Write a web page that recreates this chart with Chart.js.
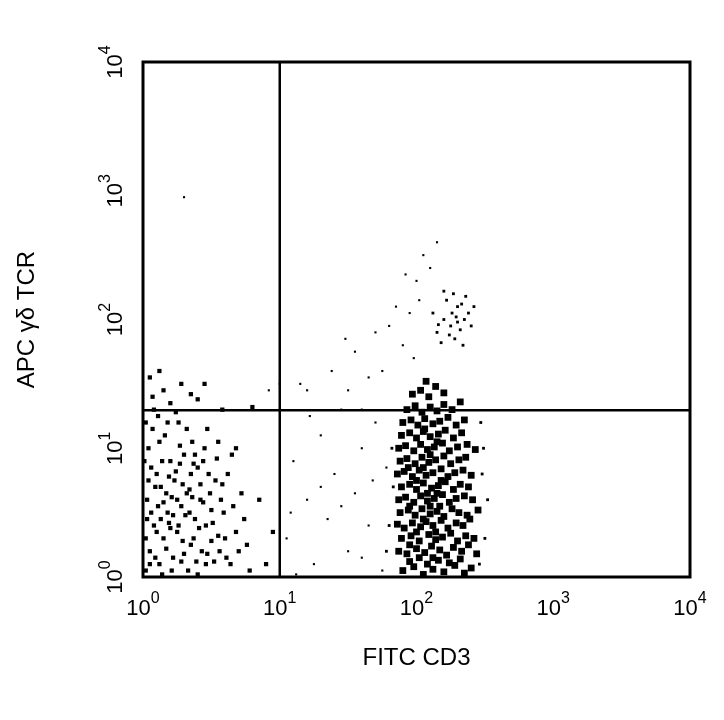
<!DOCTYPE html>
<html>
<head>
<meta charset="utf-8">
<script src="https://cdn.jsdelivr.net/npm/chart.js@4"></script>
<style>
  body { margin: 0; background: #fff; }
  #wrap { width: 724px; height: 720px; }
</style>
</head>
<body>
<div id="wrap"><canvas id="plot"></canvas></div>
<script>
// log10 (x,y) pairs
const lowerLeft = `0.02,0.05 0.05,0.2 0.08,0.4 0.03,0.6 0.1,0.8 0.04,1.0 0.07,1.15 0.12,0.1 0.15,0.3 0.18,0.5 0.13,0.7 0.2,0.9 0.16,1.1 0.22,0.15 0.25,0.35 0.28,0.55 0.23,0.75 0.3,0.95 0.26,1.2 0.33,0.05 0.35,0.25 0.38,0.45 0.32,0.65 0.4,0.85 0.36,1.05 0.43,0.2 0.46,0.4 0.42,0.6 0.48,0.8 0.45,1.0 0.52,0.12 0.55,0.32 0.5,0.52 0.58,0.72 0.54,0.92 0.6,0.3 0.64,0.1 0.66,0.55 0.7,0.2 0.74,0.45 0.62,0.8 0.78,0.05 0.02,0.3 0.06,0.5 0.09,0.7 0.01,0.9 0.11,1.25 0.14,0.02 0.17,0.22 0.19,0.42 0.21,0.62 0.24,0.82 0.27,1.02 0.29,0.28 0.31,0.48 0.34,0.68 0.37,0.88 0.39,0.12 0.41,0.38 0.44,0.58 0.47,0.18 0.49,0.65 0.51,0.42 0.53,0.75 0.56,0.2 0.59,0.5 0.05,0.1 0.1,0.35 0.15,0.58 0.2,0.38 0.25,0.6 0.3,0.18 0.35,0.8 0.4,0.02 0.06,0.85 0.12,1.05 0.18,1.2 0.24,1.28 0.08,1.3 0.03,0.45 0.14,0.9 0.22,0.48 0.28,0.12 0.32,1.15 0.38,0.95 0.44,0.9 0.09,0.15 0.04,0.75 0.13,0.45 0.17,0.65 0.21,0.05 0.26,0.4 0.29,0.72 0.34,0.5 0.37,0.3 0.42,0.72 0.46,0.1 0.5,0.28 0.57,0.6 0.61,0.15 0.68,0.35 0.72,0.65 0.76,0.25 0.65,0.95 0.55,1.05 0.47,1.15 0.02,1.2 0.11,0.55 0.19,0.78 0.27,0.88 0.36,0.62 0.07,1.4 0.15,1.45 0.28,1.5 0.4,1.38 0.05,1.55 0.2,1.35 0.35,1.42 0.58,1.3 0.8,1.32 0.12,1.6 0.45,1.5 0.68,1.0 0.9,0.1 0.85,0.6 0.95,0.35`;

const scattered = `1.05,0.3 1.1,0.9 1.15,1.5 1.2,0.6 1.25,0.1 1.3,1.1 1.35,0.45 1.4,0.8 1.45,1.3 1.5,0.2 1.55,0.65 1.6,1.0 1.65,0.4 1.7,1.2 1.75,0.05 1.78,0.85 1.6,0.15 1.45,0.55 1.3,0.7 1.22,1.25 1.12,0.02 1.5,1.45 1.38,1.6 1.55,1.75 1.65,1.55 1.7,1.9 1.48,1.85 1.75,1.6 1.8,1.95 1.85,2.1 1.9,1.8 1.95,2.05 2.0,2.3 2.05,2.5 2.1,2.4 2.02,2.15 1.98,1.7 1.92,2.35 2.15,2.6 0.3,2.95 1.6,1.3 1.08,0.5 1.68,0.75 0.92,1.45 1.0,1.5 1.2,1.45`;

const upper = `2.15,1.9 2.2,2.0 2.25,1.95 2.3,2.1 2.35,2.0 2.28,1.85 2.22,2.15 2.32,1.92 2.38,2.05 2.18,1.82 2.26,2.05 2.3,1.98 2.24,1.88 2.36,2.18 2.42,2.1 2.2,2.22 2.12,2.05 2.34,1.8 2.27,2.2 2.4,1.95 2.16,1.96 2.29,2.02 2.33,2.12`;

const mainCluster = `1.9,0.05 1.98,0.08 2.05,0.02 2.12,0.06 2.2,0.04 2.28,0.09 2.35,0.03 1.95,0.12 2.08,0.1 2.16,0.13 2.24,0.11 2.32,0.14 2.4,0.07
1.87,0.2 1.93,0.18 2.0,0.22 2.06,0.19 2.11,0.24 2.17,0.21 2.22,0.17 2.27,0.23 2.33,0.2 2.38,0.25 2.44,0.18
1.89,0.3 1.96,0.32 2.02,0.28 2.09,0.33 2.14,0.29 2.19,0.31 2.25,0.34 2.3,0.28 2.36,0.32 2.42,0.3
1.86,0.41 1.91,0.38 1.97,0.42 2.03,0.39 2.07,0.43 2.12,0.4 2.18,0.44 2.23,0.38 2.29,0.42 2.34,0.4 2.39,0.45
1.88,0.5 1.94,0.52 1.99,0.48 2.04,0.53 2.1,0.49 2.15,0.51 2.2,0.47 2.26,0.53 2.31,0.5 2.37,0.48 2.45,0.52
1.87,0.6 1.92,0.62 1.98,0.58 2.03,0.63 2.08,0.59 2.13,0.61 2.19,0.64 2.24,0.58 2.29,0.61 2.35,0.63 2.41,0.6
1.89,0.7 1.95,0.72 2.0,0.68 2.05,0.73 2.11,0.69 2.16,0.71 2.21,0.74 2.27,0.68 2.32,0.72 2.38,0.7
1.86,0.8 1.91,0.82 1.97,0.78 2.02,0.83 2.07,0.79 2.12,0.81 2.18,0.84 2.23,0.78 2.28,0.81 2.34,0.83 2.4,0.79
1.88,0.9 1.93,0.92 1.99,0.88 2.04,0.93 2.09,0.89 2.14,0.91 2.2,0.94 2.25,0.88 2.31,0.91 2.36,0.93
1.87,1.0 1.92,1.02 1.98,0.98 2.03,1.03 2.08,0.99 2.13,1.01 2.19,1.04 2.24,0.98 2.3,1.01 2.37,1.03 2.43,0.99
1.89,1.1 1.95,1.12 2.0,1.08 2.05,1.13 2.1,1.09 2.16,1.11 2.21,1.14 2.27,1.08 2.33,1.12
1.9,1.2 1.96,1.22 2.01,1.18 2.06,1.23 2.12,1.19 2.17,1.21 2.23,1.24 2.29,1.18 2.35,1.22
1.93,1.3 1.99,1.33 2.04,1.28 2.1,1.32 2.15,1.29 2.2,1.34 2.26,1.3 2.32,1.36
1.97,1.42 2.03,1.45 2.09,1.4 2.14,1.48 2.2,1.43 2.07,1.52
1.95,0.25 2.0,0.35 2.05,0.45 2.1,0.55 2.15,0.65 2.0,0.75 2.05,0.85 2.1,0.95 2.15,1.05 1.95,0.55 2.02,0.15 2.08,0.65 2.14,0.35 2.18,0.75 2.06,1.15 1.94,0.85 2.12,0.15 2.17,0.55`;

const mainFringe = `2.5,0.3 2.48,0.8 2.47,1.2 2.52,0.6 1.8,0.4 1.82,1.0 1.78,0.2 2.46,0.1 1.83,0.7 2.49,1.0`;

const gateX = [10];
const gateY = [19.7];
const decades = [1, 10, 100, 1000, 10000];
const exponents = ['0', '1', '2', '3', '4'];

function parse(s) {
    return s.trim().split(/\s+/).map(p => {
        const [a, b] = p.split(',').map(Number);
        return { x: 10 ** a, y: 10 ** b };
    });
}

function dots(data, r) {
    return { type: 'scatter', data: parse(data), pointStyle: 'rect', pointRadius: r,
             backgroundColor: '#000', borderWidth: 0 };
}

function gateLine(pts) {
    return { type: 'line', data: pts, borderColor: '#000', borderWidth: 2.5,
             pointRadius: 0, fill: false };
}

// "10" with a raised exponent, centred on (0,0) of the current transform
function powerLabel(ctx, exp) {
    ctx.font = '22px "Liberation Sans", Arial, sans-serif';
    const wBase = ctx.measureText('10').width;
    ctx.font = '16px "Liberation Sans", Arial, sans-serif';
    const wExp = ctx.measureText(exp).width;
    const start = -(wBase + wExp) / 2;
    ctx.textAlign = 'left';
    ctx.font = '22px "Liberation Sans", Arial, sans-serif';
    ctx.fillText('10', start, 0);
    ctx.font = '16px "Liberation Sans", Arial, sans-serif';
    ctx.fillText(exp, start + wBase, -10);
}

const decor = {
    id: 'decor',
    afterDraw(chart) {
        const { ctx, chartArea: a, scales } = chart;
        ctx.save();
        ctx.strokeStyle = '#000';
        ctx.lineWidth = 3;
        ctx.strokeRect(a.left, a.top, a.right - a.left, a.bottom - a.top);
        ctx.fillStyle = '#000';
        ctx.textBaseline = 'middle';
        decades.forEach((v, i) => {
            ctx.save();
            ctx.translate(scales.x.getPixelForValue(v), a.bottom + 32);
            powerLabel(ctx, exponents[i]);
            ctx.restore();
            ctx.save();
            ctx.translate(a.left - 27, scales.y.getPixelForValue(v));
            ctx.rotate(-Math.PI / 2);
            powerLabel(ctx, exponents[i]);
            ctx.restore();
        });
        ctx.textAlign = 'center';
        ctx.font = '24px "Liberation Sans", Arial, sans-serif';
        ctx.fillText('FITC CD3', (a.left + a.right) / 2, 658);
        ctx.save();
        ctx.translate(27, (a.top + a.bottom) / 2);
        ctx.rotate(-Math.PI / 2);
        ctx.fillText('APC γδ TCR', 0, 0);
        ctx.restore();
        ctx.restore();
    }
};

new Chart(document.getElementById('plot'), {
    data: {
        datasets: [
            dots(lowerLeft, 3),
            dots(scattered, 1.5),
            dots(upper, 2),
            dots(mainCluster, 4.8),
            dots(mainFringe, 2),
            gateLine([{ x: gateX[0], y: 1 }, { x: gateX[0], y: 10000 }]),
            gateLine([{ x: 1, y: gateY[0] }, { x: 10000, y: gateY[0] }])
        ]
    },
    options: {
        responsive: true,
        maintainAspectRatio: false,
        animation: false,
        layout: { padding: { top: 62, right: 34, left: 0, bottom: 0 } },
        plugins: { legend: { display: false }, tooltip: { enabled: false } },
        scales: {
            x: {
                type: 'logarithmic', min: 1, max: 10000,
                grid: { display: false }, border: { display: false },
                ticks: { display: false },
                afterFit: s => { s.height = 143; }
            },
            y: {
                type: 'logarithmic', min: 1, max: 10000,
                grid: { display: false }, border: { display: false },
                ticks: { display: false },
                afterFit: s => { s.width = 143; }
            }
        }
    },
    plugins: [decor]
});
</script>
</body>
</html>
